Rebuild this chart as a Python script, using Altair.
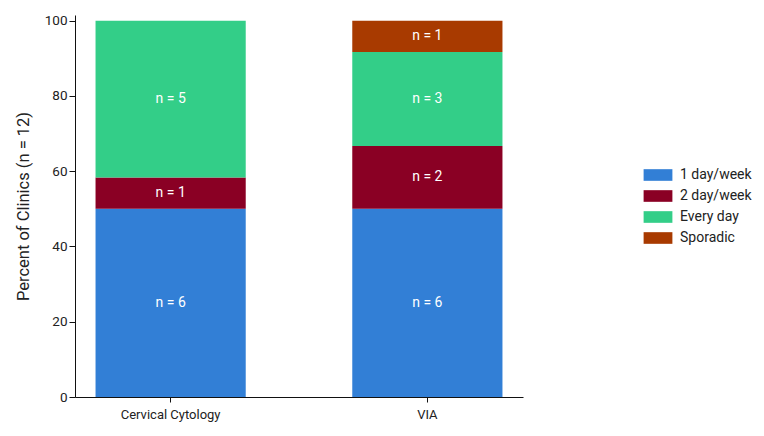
import altair as alt
import pandas as pd

methods = ["Cervical Cytology"] * 3 + ["VIA"] * 4
frequency = ["1 day/week", "2 day/week", "Every day",
             "1 day/week", "2 day/week", "Every day", "Sporadic"]
percent = [50.0, 8.33, 41.67, 50.0, 16.67, 25.0, 8.33]
counts = [6, 1, 5, 6, 2, 3, 1]
stack_order = [1, 2, 3, 1, 2, 3, 4]

freq_domain = ["1 day/week", "2 day/week", "Every day", "Sporadic"]
freq_colors = ["#327FD6", "#8A0024", "#33CE88", "#A83A00"]

df = pd.DataFrame({
    "method": methods,
    "frequency": frequency,
    "percent": percent,
    "count": counts,
    "ord": stack_order,
})
df["label"] = ["n = %d" % c for c in counts]

FONT = "Roboto, sans-serif"

base = alt.Chart(df).transform_stack(
    stack="percent", groupby=["method"], as_=["y0", "y1"],
    sort=[alt.SortField("ord", order="ascending")]
).transform_calculate(mid="(datum.y0 + datum.y1) / 2")

x_enc = alt.X("method:N", title=None,
              scale=alt.Scale(paddingInner=0.415, paddingOuter=0.08),
              axis=alt.Axis(labelAngle=0, labelFontSize=13, labelColor="#222",
                            labelPadding=6, tickSize=5, domainColor="#111",
                            tickColor="#111", labelFont=FONT))

bars = base.mark_bar().encode(
    x=x_enc,
    y=alt.Y("y0:Q", title="Percent of Clinics (n = 12)",
            scale=alt.Scale(domain=[0, 101.5], nice=False),
            axis=alt.Axis(values=[0, 20, 40, 60, 80, 100], grid=False,
                          labelFontSize=13.5, labelColor="#222", tickSize=6,
                          domainColor="#111", tickColor="#111",
                          titleFontSize=16.5, titleFontWeight="normal",
                          titleColor="#222", titlePadding=13,
                          labelFont=FONT, titleFont=FONT)),
    y2="y1:Q",
    color=alt.Color("frequency:N", title=None,
                    scale=alt.Scale(domain=freq_domain, range=freq_colors),
                    legend=alt.Legend(orient="none", legendX=576, legendY=153,
                                      symbolType="M-2.4,-0.97H2.4V0.97H-2.4Z",
                                      symbolSize=144, symbolStrokeWidth=0,
                                      labelFontSize=14, labelColor="#222",
                                      labelFont=FONT, rowPadding=7,
                                      labelOffset=15)),
)

labels = base.mark_text(color="white", fontSize=14, font=FONT).encode(
    x=alt.X("method:N"),
    y=alt.Y("mid:Q"),
    text="label:N",
)

chart = alt.layer(bars, labels).properties(
    width=448, height=382,
    background="white",
    autosize=alt.AutoSizeParams(type="none"),
    padding={"left": 67, "top": 7, "right": 233, "bottom": 31},
).configure_view(stroke=None)

chart.save("out.html", embed_options={"renderer": "svg", "actions": False})
